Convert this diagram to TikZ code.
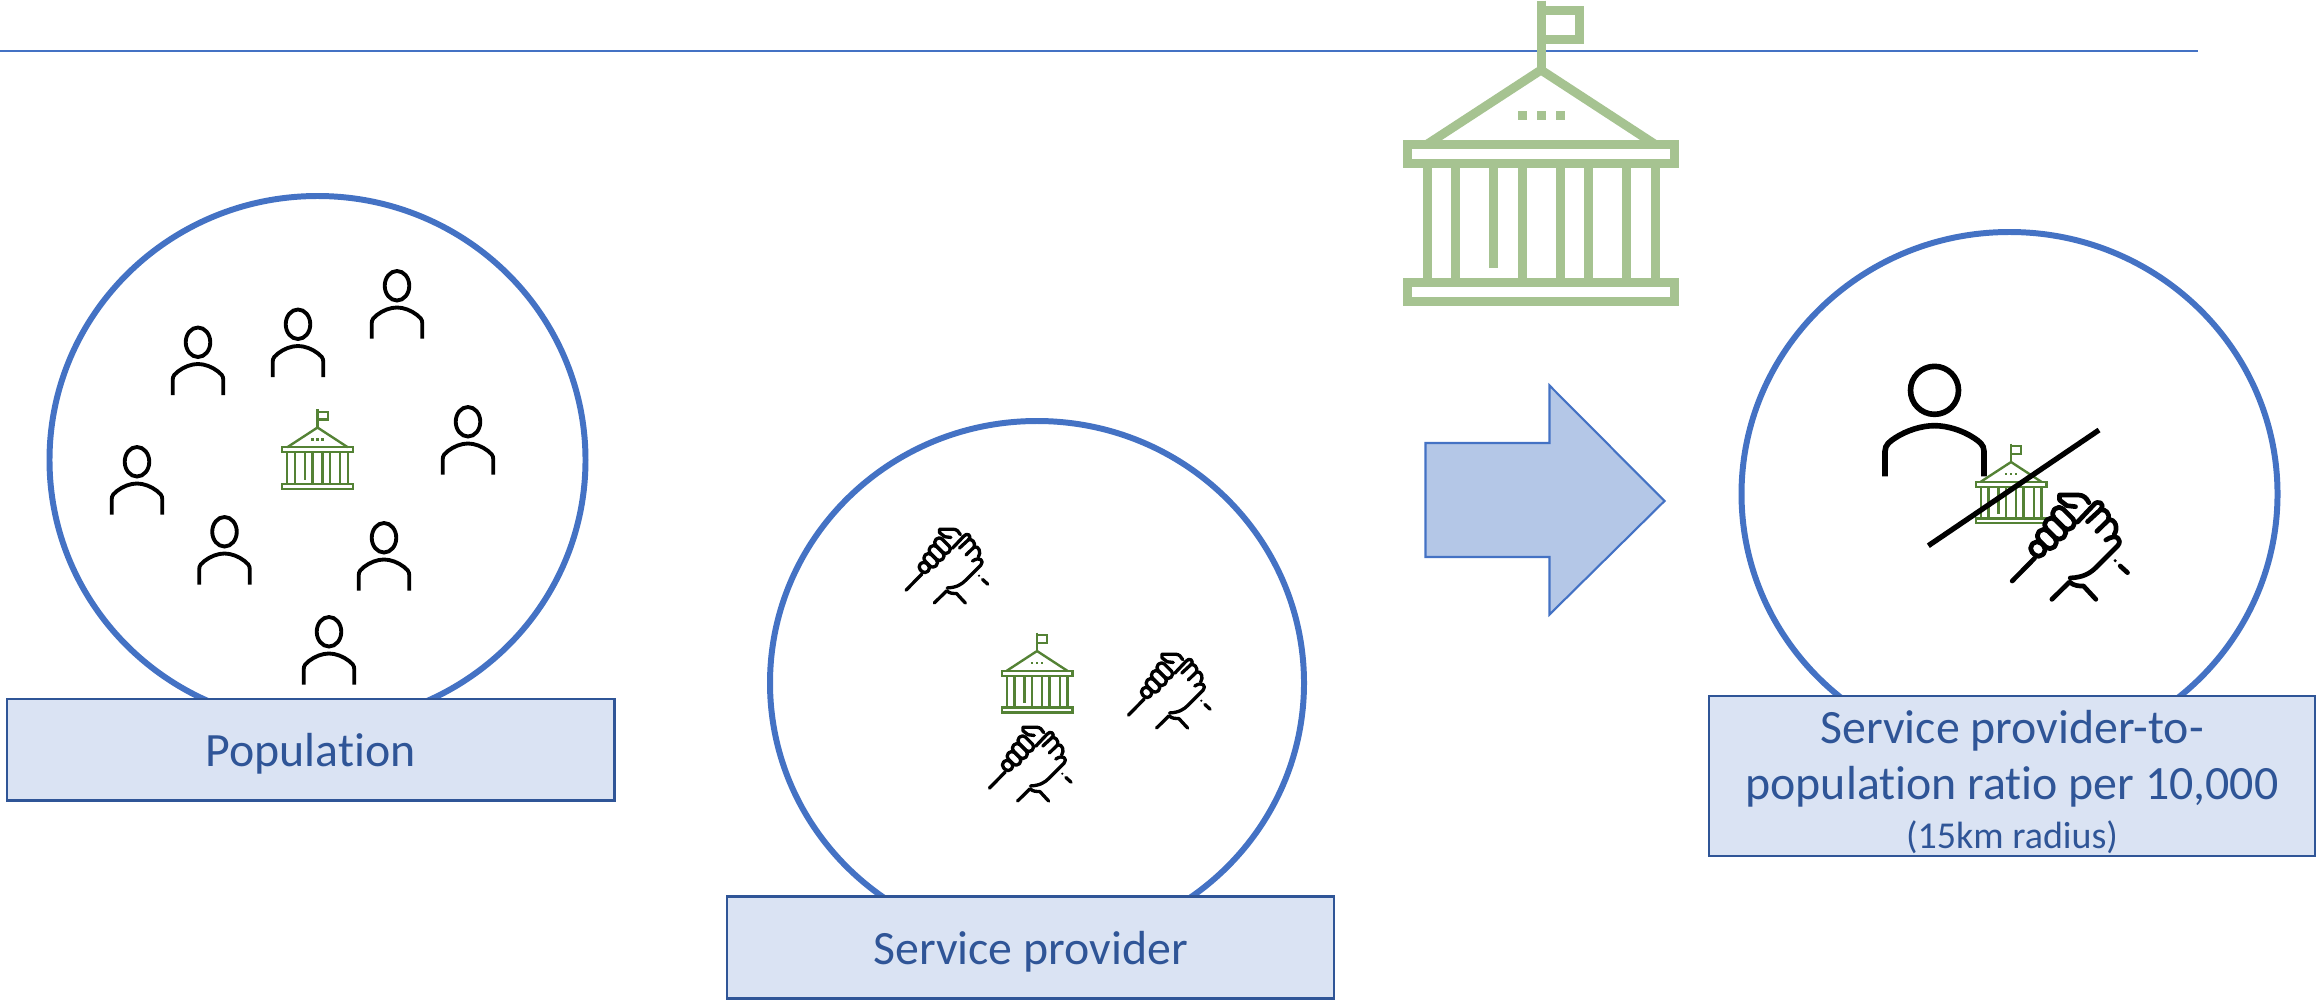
\documentclass[tikz,border=0pt]{standalone}
\usepackage{fontspec}
\setmainfont[Ligatures=NoCommon]{Carlito}
\definecolor{ringblue}{HTML}{4472C4}
\definecolor{boxblue}{HTML}{DAE3F3}
\definecolor{boxline}{HTML}{2F5597}
\definecolor{arrowblue}{HTML}{B4C7E7}
\definecolor{bankgreen}{HTML}{548235}
\definecolor{banklight}{HTML}{A6C391}
\tikzset{
    ring/.style={draw=ringblue, line width=1.7pt},
    labelbox/.style={draw=boxline, fill=boxblue, line width=.7pt, text=boxline, align=center, font=\fontsize{13.6}{16}\selectfont, inner sep=0pt},
}
% x, y, scale, colour
\newcommand{\bankicon}[4]{
    \begin{scope}[shift={(#1, #2)}, scale=#3, shift={(-573.5, -460)}, draw=#4, fill=#4, line width=#3*7.68pt]
        \draw (573.5, 3) -- (573.5, 211);
        \draw (573.5, 33) -- (689, 33) -- (689, 120) -- (573.5, 120);
        \draw (230, 435) -- (573.5, 211) -- (917, 435);
        \foreach \dotx in {503, 560, 617}
            \fill[draw=none] (\dotx, 334) rectangle ++(29, 28);
        \draw (173.5, 434.5) rectangle (973.5, 491.5);
        \draw (173.5, 848.5) rectangle (973.5, 905);
        \foreach \colx in {231.5, 317, 516.5, 630.5, 716.5, 830.5, 916.5}
            \draw (\colx, 491) -- (\colx, 848);
        \draw (430.5, 491) -- (430.5, 805);
    \end{scope}
}
% x, y, xscale, yscale, line width
\newcommand{\personicon}[5]{
    \begin{scope}[shift={(#1, #2)}, xscale=#3, yscale=#4, shift={(-403.5, -241)}, line width=#5]
        \draw (403.5, 152) ellipse (72 and 72);
        \draw (255, 410) -- (255, 335) .. controls (255, 315) and (270, 305) .. (285, 295) .. controls (320, 272) and (365, 258) .. (403.5, 258) .. controls (442, 258) and (487, 272) .. (522, 295) .. controls (537, 305) and (552, 315) .. (552, 335) -- (552, 410);
    \end{scope}
}
% x, y, scale
\newcommand{\handicon}[3]{
    \begin{scope}[shift={(#1, #2)}, scale=#3, shift={(-808, -621)}, line width=#3*4pt, line cap=round, line join=round]
        \draw (636, 723) -- (703, 655);
        \draw (755, 778) -- (808, 726) .. controls (822, 738) and (835, 738) .. (850, 738) -- (887, 778);
        % thumb
        \draw (826, 500) -- (800, 497) -- (778, 480) -- (778, 465) -- (835, 465) .. controls (850, 465) and (860, 475) .. (866, 488);
        % back of the hand
        \draw (810, 714) .. controls (850, 712) and (870, 700) .. (890, 680) -- (952, 618) .. controls (968, 600) and (950, 578) .. (917, 600);
        \draw (890, 574) -- (925, 540) .. controls (945, 535) and (955, 565) .. (942, 583);
        \draw (862, 545) -- (900, 510) .. controls (915, 505) and (930, 520) .. (925, 540);
        \draw (832, 546) -- (880, 495) .. controls (892, 478) and (918, 490) .. (900, 510);
        % fist
        \foreach \capx/\capy/\capl in {790/535/38, 765/566/36, 740/597/32, 713/627/22} {
            \begin{scope}[shift={(\capx, \capy)}, rotate=-45]
                \draw[fill=white, rounded corners=#3*4.8pt] (-\capl, -19) rectangle (\capl, 19);
            \end{scope}
        }
        % pulse
        \fill (945, 662) circle (5);
        \draw (960, 678) -- (982, 698);
    \end{scope}
}
\begin{document}
\begin{tikzpicture}[x=.01cm, y=-.01cm]
    \useasboundingbox (0, 0) rectangle (2316, 1000);
    \draw[ringblue, line width=.7pt] (0, 51) -- (2198, 51);
    \bankicon{1541}{153}{.3333}{banklight}

    % population
    \draw[ring] (317.5, 460) ellipse (268 and 264);
    \foreach \px/\py in {198/360.5, 298/342.5, 397/304, 468/440, 137/480, 224.5/550, 384/556, 329/650} {
        \personicon{\px}{\py}{.1704}{.205}{1.1pt}
    }
    \bankicon{317.5}{449.5}{.0883}{bankgreen}
    \node[labelbox, minimum width=607.5*.01cm, minimum height=101.5*.01cm, text height=12pt, text depth=2.5pt] (population) at (310.75, 749.75) {Population};

    % service provider
    \draw[ring] (1037, 683) ellipse (267 and 262);
    \foreach \hx/\hy in {946.7/566, 1169/691, 1030/764} {
        \handicon{\hx}{\hy}{.236}
    }
    \bankicon{1037}{673}{.0883}{bankgreen}
    \node[labelbox, minimum width=607*.01cm, minimum height=102*.01cm, text height=12pt, text depth=2.5pt] (provider) at (1030.5, 947.5) {Service provider};

    % arrow
    \draw[draw=ringblue, fill=arrowblue, line width=.6pt] (1425.5, 443) -- (1549.5, 443) -- (1549.5, 385.5) -- (1664.5, 501) -- (1549.5, 614.5) -- (1549.5, 557) -- (1425.5, 557) -- cycle;

    % ratio
    \draw[ring] (2009.5, 494) ellipse (268 and 262);
    \personicon{1934.5}{420}{.3333}{.3333}{1.6pt}
    \bankicon{2011}{484}{.0883}{bankgreen}
    \handicon{2069.5}{547}{.3333}
    \draw[line width=1.5pt] (1928.3, 545.7) -- (2099, 430);
    \node[labelbox, minimum width=606*.01cm, minimum height=160*.01cm] (ratio) at (2012, 776) {\rule{0pt}{13pt}Service provider-to-\\population ratio per 10,000\\[-2pt]{\fontsize{10.8}{12}\selectfont (15km radius)}};
\end{tikzpicture}
\end{document}
